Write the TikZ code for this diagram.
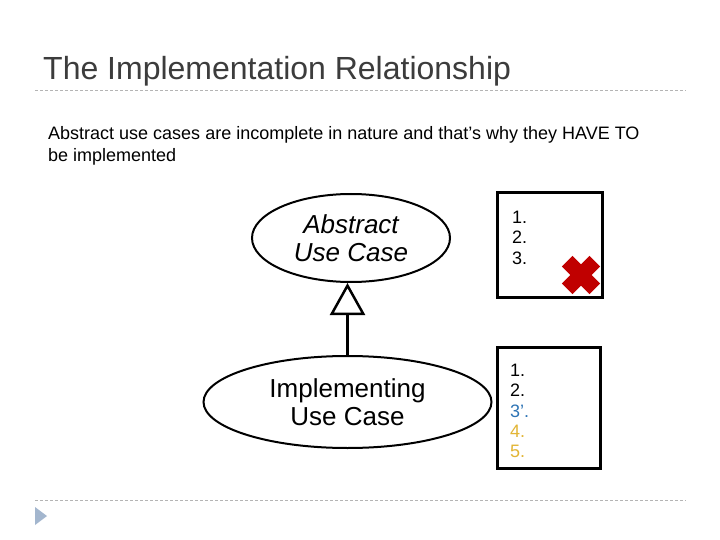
\documentclass[tikz,border=0pt]{standalone}
\usepackage{fontspec}
\setmainfont{Liberation Sans}
\usetikzlibrary{shapes.geometric,arrows.meta}
\definecolor{titlegray}{HTML}{3C3C3C}
\definecolor{rulegray}{HTML}{B4B4B4}
\definecolor{bulletblue}{HTML}{A3B6CE}
\definecolor{xred}{HTML}{C00000}
\definecolor{stepblue}{HTML}{2E74B5}
\definecolor{stepgold}{HTML}{E2B535}
\tikzset{
  hrule/.style={rulegray, line width=0.8pt, dash pattern=on 3pt off 2pt},
  usecase/.style={draw, ellipse, line width=2pt, inner sep=0pt, align=center, font=\fontsize{26}{28}\selectfont},
  stepbox/.style={draw, line width=3pt, inner sep=0pt},
  steplist/.style={anchor=north west, inner sep=0pt, align=left, font=\fontsize{18}{20.3}\selectfont},
  bodytext/.style={anchor=base west, inner sep=0pt, font=\fontsize{18}{22}\selectfont}
}
\begin{document}
\begin{tikzpicture}[x=1pt,y=-1pt]
\useasboundingbox[fill=white] (0,0) rectangle (720,540);
% title
\node[anchor=base west, inner sep=0pt, text=titlegray, font=\fontsize{32}{38}\selectfont] (title) at (43,80) {The Implementation Relationship};
\coordinate (r1a) at (35,90); \coordinate (r1b) at (686,90);
\draw[hrule] (r1a) -- (r1b);
% body text
\node[bodytext] (body1) at (48,140) {Abstract use cases are incomplete in nature and that’s why they HAVE TO};
\node[bodytext] (body2) at (48,162) {be implemented};
% use cases
\node[usecase, minimum width=198pt, minimum height=88pt] (abs) at (351,238) {\itshape Abstract\\\itshape Use Case};
\node[usecase, minimum width=288pt, minimum height=92pt] (impl) at (347.5,402) {Implementing\\Use Case};
\draw[line width=3pt, -{Triangle[open, length=32pt, width=35pt, line width=2.5pt]}] (impl.north) -- (impl.north |- abs.south);
% step boxes
\node[stepbox, minimum width=105pt, minimum height=104pt] (box1) at (549.5,245) {};
\node[stepbox, minimum width=103pt, minimum height=121pt] (box2) at (548.5,407.5) {};
\node[steplist] (list1) at (512,211) {1.\\2.\\3.};
\node[steplist] (list2) at (510,364) {1.\\2.\\\textcolor{stepblue}{3’.}\\\textcolor{stepgold}{4.}\\\textcolor{stepgold}{5.}};
% red cross
\coordinate (xc) at (581,275);
\fill[xred, rotate around={45:(xc)}] (561.5,267.5) rectangle (600.5,282.5);
\fill[xred, rotate around={-45:(xc)}] (561.5,267.5) rectangle (600.5,282.5);
% bottom rule and bullet
\coordinate (r2a) at (35,500); \coordinate (r2b) at (686,500);
\draw[hrule] (r2a) -- (r2b);
\fill[bulletblue] (35,507) -- (47,516) -- (35,525) -- cycle;
\end{tikzpicture}
\end{document}
